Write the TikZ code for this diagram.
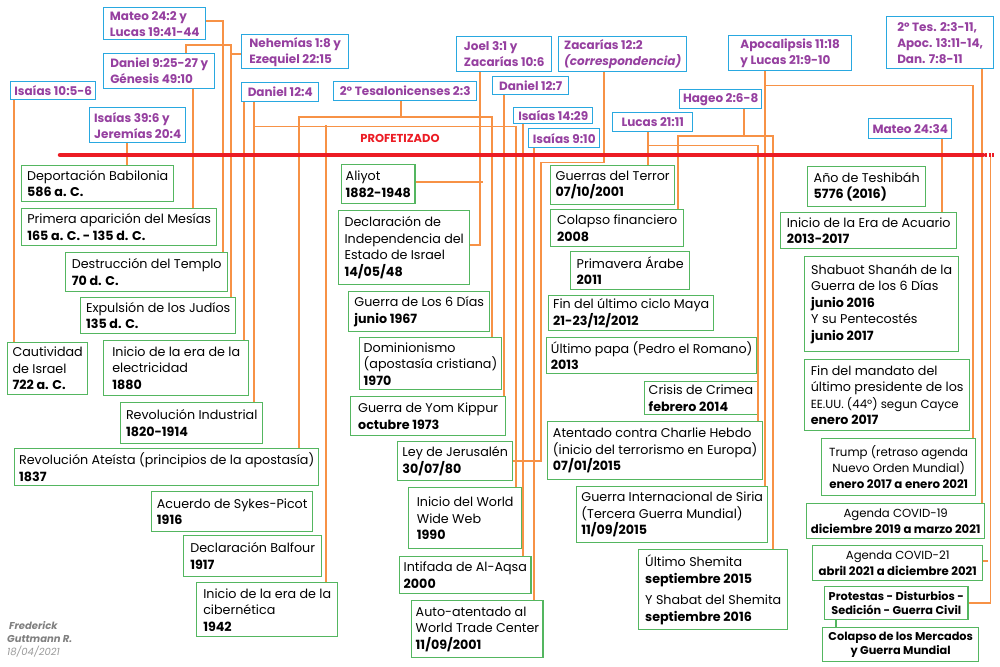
\documentclass[tikz,border=0pt]{standalone}
\usepackage{fontspec}
\setmainfont{Poppins}
\definecolor{refblue}{RGB}{41,168,224}
\definecolor{refpurple}{RGB}{150,64,160}
\definecolor{evtgreen}{RGB}{84,182,96}
\definecolor{wireorange}{RGB}{247,146,70}
\definecolor{linered}{RGB}{236,28,36}
\definecolor{signgray}{RGB}{128,128,128}
\newcommand{\evtfont}{\fontsize{12.7}{16.5}\selectfont}
\newcommand{\smallevtfont}{\fontsize{11.8}{16}\selectfont}
\newcommand{\reffont}{\fontsize{12}{16}\selectfont\bfseries}

\begin{document}
\begin{tikzpicture}[x=1pt, y=-1pt,
  evt/.style={draw=evtgreen, line width=1.4pt, fill=white, anchor=north west, align=left, inner xsep=4pt, inner ysep=1pt, font=\evtfont},
  evtc/.style={evt, align=center, font=\smallevtfont},
  ref/.style={draw=refblue, line width=1.4pt, fill=white, anchor=north west, align=left, inner xsep=3pt, inner ysep=1pt, font=\reffont, text=refpurple},
  wire/.style={draw=wireorange, line width=1.3pt},
]
\fill[white] (0,0) rectangle (1000,666);
\useasboundingbox (0,0) rectangle (1000,666);

% prophecies
\node[ref, minimum width=102pt, minimum height=32pt] (mat242) at (103,7) {Mateo 24:2 y\\Lucas 19:41-44};
\node[ref, minimum width=107pt, minimum height=34pt] (neh18) at (241,34) {Nehemías 1:8 y\\Ezequiel 22:15};
\node[ref, minimum width=111pt, minimum height=35pt] (dan925) at (103,53) {Daniel 9:25-27 y\\Génesis 49:10};
\node[ref, minimum width=85pt, minimum height=18pt] (isa105) at (10,81) {Isaías 10:5-6};
\node[ref, minimum width=96pt, minimum height=35pt] (isa396) at (89,107) {Isaías 39:6 y\\Jeremías 20:4};
\node[ref, minimum width=77pt, minimum height=19pt] (dan124) at (241,82) {Daniel 12:4};
\node[ref, minimum width=143pt, minimum height=19pt] (tes23) at (333,81) {2º Tesalonicenses 2:3};
\node[ref, minimum width=95pt, minimum height=35pt] (joel31) at (456,36) {Joel 3:1 y\\Zacarías 10:6};
\node[ref, minimum width=76pt, minimum height=18pt] (dan127) at (492,76) {Daniel 12:7};
\node[ref, minimum width=128pt, minimum height=35pt] (zac122) at (558,36) {Zacarías 12:2\\\textit{(correspondencia)}};
\node[ref, minimum width=79pt, minimum height=16pt] (isa1429) at (513,107) {Isaías 14:29};
\node[ref, minimum width=71pt, minimum height=19pt] (isa910) at (528,128) {Isaías 9:10};
\node[ref, minimum width=80pt, minimum height=19pt] (luc2111) at (612,112) {Lucas 21:11};
\node[ref, minimum width=82pt, minimum height=19pt] (hag26) at (679,89) {Hageo 2:6-8};
\node[ref, minimum width=123pt, minimum height=35pt] (apo1118) at (728,35) {Apocalipsis 11:18\\y Lucas 21:9-10};
\node[ref, minimum width=83pt, minimum height=20pt] (mat2434) at (868,118) {Mateo 24:34};
\node[ref, minimum width=107pt, minimum height=52pt] (tes311) at (886,16) {2º Tes. 2:3-11,\\Apoc. 13:11-14,\\Dan. 7:8-11};

% events
\node[evt, minimum width=152pt, minimum height=36pt] (deport) at (21,165) {Deportación Babilonia\\\textbf{586 a. C.}};
\node[evt, minimum width=195pt, minimum height=37pt] (mesias) at (21,208) {Primera aparición del Mesías\\\textbf{165 a. C. - 135 d. C.}};
\node[evt, minimum width=162pt, minimum height=39pt] (templo) at (65,252) {Destrucción del Templo\\\textbf{70 d. C.}};
\node[evt, minimum width=155pt, minimum height=36pt] (expuls) at (80,297) {Expulsión de los Judíos\\\textbf{135 d. C.}};
\node[evt, minimum width=80pt, minimum height=52pt] (cautiv) at (7,342) {Cautividad\\de Israel\\\textbf{722 a. C.}};
\node[evt, minimum width=145pt, minimum height=55pt] (electr) at (103,340) {Inicio de la era de la\\electricidad\\\textbf{1880}};
\node[evt, minimum width=142pt, minimum height=41pt] (revind) at (120,402) {Revolución Industrial\\\textbf{1820-1914}};
\node[evt, minimum width=304pt, minimum height=37pt] (revate) at (14,448) {Revolución Ateísta (principios de la apostasía)\\\textbf{1837}};
\node[evt, minimum width=161pt, minimum height=40pt] (sykes) at (151,491) {Acuerdo de Sykes-Picot\\\textbf{1916}};
\node[evt, minimum width=138pt, minimum height=41pt] (balfour) at (183,535) {Declaración Balfour\\\textbf{1917}};
\node[evt, minimum width=141pt, minimum height=54pt] (ciber) at (196,582) {Inicio de la era de la\\cibernética\\\textbf{1942}};
\node[evt, minimum width=72pt, minimum height=39pt] (aliyot) at (341,164) {Aliyot\\\textbf{1882-1948}};
\node[evt, minimum width=131pt, minimum height=74pt] (indep) at (338,210) {Declaración de\\Independencia del\\Estado de Israel\\\textbf{14/05/48}};
\node[evt, minimum width=141pt, minimum height=40pt] (seisdias) at (348,291) {Guerra de Los 6 Días\\\textbf{junio 1967}};
\node[evt, minimum width=138pt, minimum height=52pt] (domin) at (359,337) {Dominionismo\\(apostasía cristiana)\\\textbf{1970}};
\node[evt, minimum width=155pt, minimum height=39pt] (yomkip) at (350,396) {Guerra de Yom Kippur\\\textbf{octubre 1973}};
\node[evt, minimum width=115pt, minimum height=39pt] (leyjer) at (397,441) {Ley de Jerusalén\\\textbf{30/07/80}};
\node[evt, minimum width=113pt, minimum height=61pt] (www) at (408,487) {Inicio del World\\Wide Web\\\textbf{1990}};
\node[evt, minimum width=130pt, minimum height=37pt] (intif) at (399,556) {Intifada de Al-Aqsa\\\textbf{2000}};
\node[evt, minimum width=131pt, minimum height=57pt] (wtc) at (411,600) {Auto-atentado al\\World Trade Center\\\textbf{11/09/2001}};
\node[evt, minimum width=124pt, minimum height=39pt] (terror) at (550,165) {Guerras del Terror\\\textbf{07/10/2001}};
\node[evt, minimum width=133pt, minimum height=37pt] (colapso) at (550,209) {Colapso financiero\\\textbf{2008}};
\node[evt, minimum width=119pt, minimum height=38pt] (primav) at (570,251) {Primavera Árabe\\\textbf{2011}};
\node[evt, minimum width=165pt, minimum height=35pt] (maya) at (548,295) {Fin del último ciclo Maya\\\textbf{21-23/12/2012}};
\node[evt, minimum width=210pt, minimum height=36pt] (papa) at (546,337) {Último papa (Pedro el Romano)\\\textbf{2013}};
\node[evt, minimum width=109pt, minimum height=33pt] (crimea) at (644,381) {Crisis de Crimea\\\textbf{febrero 2014}};
\node[evt, minimum width=215pt, minimum height=58pt] (charlie) at (547,421) {Atentado contra Charlie Hebdo\\(inicio del terrorismo en Europa)\\\textbf{07/01/2015}};
\node[evt, minimum width=191pt, minimum height=56pt] (siria) at (576,486) {Guerra Internacional de Siria\\(Tercera Guerra Mundial)\\\textbf{11/09/2015}};
\node[evt, minimum width=149pt, minimum height=80pt] (shemita) at (638,549) {Último Shemita\\\textbf{septiembre 2015}\\[5pt]Y Shabat del Shemita\\\textbf{septiembre 2016}};
\node[evt, minimum width=118pt, minimum height=40pt] (teshib) at (807,166) {Año de Teshibáh\\\textbf{5776 (2016)}};
\node[evt, minimum width=176pt, minimum height=36pt] (acuario) at (780,212) {Inicio de la Era de Acuario\\\textbf{2013-2017}};
\node[evt, minimum width=154pt, minimum height=95pt] (shabuot) at (804,256) {Shabuot Shanáh de la\\Guerra de los 6 Días\\\textbf{junio 2016}\\Y su Pentecostés\\\textbf{junio 2017}};
\node[evt, minimum width=165pt, minimum height=71pt] (mandato) at (804,359) {Fin del mandato del\\último presidente de los\\{\fontsize{11.8}{16}\selectfont EE.UU. (44º) segun Cayce}\\\textbf{enero 2017}};
\node[evtc, minimum width=154pt, minimum height=57pt] (trump) at (821,438) {Trump (retraso agenda\\Nuevo Orden Mundial)\\\textbf{enero 2017 a enero 2021}};
\node[evtc, font=\fontsize{11.7}{16}\selectfont, minimum width=178pt, minimum height=35pt] (covid19) at (806,503) {Agenda COVID-19\\\textbf{diciembre 2019 a marzo 2021}};
\node[evtc, font=\fontsize{11.7}{16}\selectfont, minimum width=170pt, minimum height=35pt] (covid21) at (812,545) {Agenda COVID-21\\\textbf{abril 2021 a diciembre 2021}};
\node[evtc, font=\fontsize{11.3}{14.5}\selectfont\bfseries, minimum width=141pt, minimum height=33pt] (protes) at (824,586) {Protestas - Disturbios -\\Sedición - Guerra Civil};
\node[evtc, font=\fontsize{11.3}{14.5}\selectfont\bfseries, minimum width=156pt, minimum height=34pt] (mercados) at (822,627) {Colapso de los Mercados\\y Guerra Mundial};

% links
\draw[wire] (isa105.south -| 14,0) -- (cautiv.north -| 14,0);
\draw[wire] (isa396.south -| 127,0) -- (deport.north -| 127,0);
\draw[wire] (dan925.south -| 193,0) -- (mesias.north -| 193,0);
\draw[wire] (mat242.east |- 0,21) -| (templo.north -| 223,0);
\draw[wire] (dan925.north -| 186,0) -- ++(0,-8) -| (expuls.north -| 231,0);
\draw[wire] (neh18.west |- 0,54) -- ++(-10,0);
\draw[wire] (dan124.south -| 244,0) -- (electr.north -| 244,0);
\draw[wire] (dan124.south -| 254,0) -- (revind.north -| 254,0);
\draw[wire] (dan124.south -| 254,0) ++(0,24) -| (www.north -| 516,0);
\draw[wire] (ciber.north -| 326,0) -- ++(0,-457);
\draw[wire] (revate.north -| 299,0) -- ++(0,-331) -| (domin.north -| 492,0);
\draw[wire] (tes23.south -| 401,0) -- ++(0,17);
\draw[wire] (joel31.south -| 480,0) |- (indep.east |- 0,245);
\draw[wire] (aliyot.east |- 0,182) -- ++(67,0);
\draw[wire] (dan127.south -| 504,0) -- (yomkip.north -| 504,0);
\draw[wire] (isa1429.south -| 523,0) -- (intif.north -| 523,0);
\draw[wire] (isa910.south -| 534,0) -- (wtc.north -| 534,0);
\draw[wire] (zac122.south -| 604,0) -- ++(0,90) -- ++(-63,0) |- (leyjer.east |- 0,461);
\draw[wire] (luc2111.south -| 648,0) -- (terror.north -| 648,0);
\draw[wire] (luc2111.south -| 648,0) ++(0,13) -| (charlie.north -| 758,0);
\draw[wire] (hag26.south -| 744,0) -- ++(0,28);
\draw[wire] (colapso.north -| 678,0) -- ++(0,-73) -| (shemita.north -| 773,0);
\draw[wire] (apo1118.south -| 765,0) -- (siria.north -| 765,0);
\draw[wire] (apo1118.south -| 765,0) ++(0,14) -| (trump.north -| 973,0);
\draw[wire] (mat2434.south -| 942,0) -- (acuario.north -| 942,0);
\draw[wire] (tes311.south -| 982,0) -- (covid19.north -| 982,0);
\draw[wire] (protes.east |- 0,603) -- ++(22,0) -- ++(0,-448);
\draw[wire] (covid21.east |- 0,561) -- ++(5,0);
\draw[draw=evtgreen, line width=1.4pt] (protes.south -| 836,0) -- (mercados.north -| 836,0);

% timeline
\draw[draw=linered, line width=4.5pt, line cap=round] (60,155) -- (983,155);
\draw[draw=linered, line width=4.5pt, dash pattern=on 2pt off 1.5pt] (985,155) -- (995,155);
\node[font=\fontsize{11.5}{12}\selectfont\bfseries, text=linered] (profet) at (400,138) {PROFETIZADO};

\node[anchor=north west, align=left, inner sep=0pt, text=signgray, font=\fontsize{10}{13}\selectfont\bfseries\itshape] (sign) at (7,621) {\hspace{2pt}Frederick\\Guttmann R.\\{\mdseries\color{signgray!80}18/04/2021}};
\end{tikzpicture}
\end{document}
